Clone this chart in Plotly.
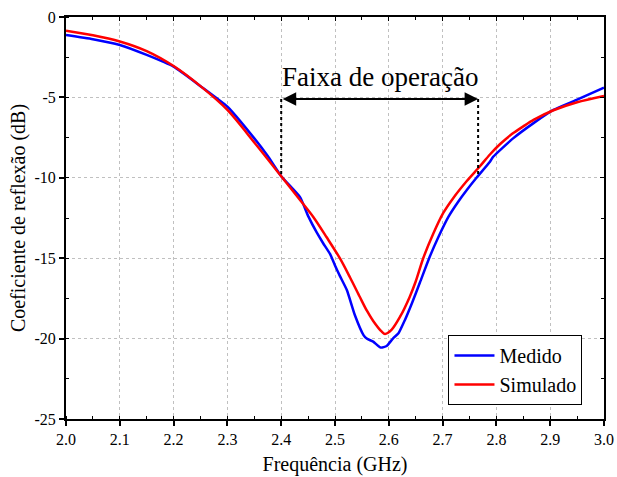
import plotly.graph_objects as go

# Measured (Medido)
freq_med = [2.00, 2.05, 2.10, 2.15, 2.20, 2.25, 2.30, 2.35, 2.375, 2.40, 2.435, 2.4504,
            2.466, 2.478, 2.491, 2.50, 2.509, 2.522, 2.537, 2.553, 2.559, 2.571, 2.585,
            2.596, 2.608, 2.618, 2.630, 2.643, 2.658, 2.675, 2.692, 2.711, 2.729, 2.745,
            2.763, 2.788, 2.794, 2.831, 2.869, 2.906, 2.949, 3.00]
s11_med = [-1.12, -1.38, -1.74, -2.36, -3.09, -4.30, -5.58, -7.55, -8.65, -9.90, -11.20, -12.40,
           -13.40, -14.07, -14.75, -15.45, -16.10, -16.98, -18.55, -19.78, -20.00, -20.19, -20.56,
           -20.46, -19.98, -19.67, -18.84, -17.80, -16.50, -15.00, -13.70, -12.42, -11.49, -10.76,
           -10.00, -9.00, -8.69, -7.55, -6.60, -5.78, -5.16, -4.40]

# Simulated (Simulado)
freq_sim = [2.00, 2.05, 2.10, 2.15, 2.20, 2.25, 2.30, 2.35, 2.40, 2.435, 2.46, 2.4845,
            2.509, 2.528, 2.546, 2.559, 2.571, 2.587, 2.593, 2.605, 2.621, 2.639, 2.65,
            2.664, 2.683, 2.701, 2.72, 2.745, 2.769, 2.788, 2.807, 2.83, 2.85, 2.869, 2.906,
            2.95, 3.00]
s11_sim = [-0.85, -1.13, -1.52, -2.12, -3.05, -4.30, -5.78, -7.80, -9.90, -11.38, -12.45, -13.70,
           -15.00, -16.20, -17.40, -18.25, -18.90, -19.57, -19.71, -19.46, -18.64, -17.39, -16.45,
           -15.00, -13.45, -12.20, -11.25, -10.20, -9.30, -8.55, -7.90, -7.25, -6.80, -6.40, -5.80,
           -5.30, -4.91]

band_start, band_end, band_level = 2.40, 2.766, -5.1
band_start_curve, band_end_curve = -9.9, -9.9
band_label = "Faixa de operação"

x_ticks = [2.0, 2.1, 2.2, 2.3, 2.4, 2.5, 2.6, 2.7, 2.8, 2.9, 3.0]
y_ticks = [0, -5, -10, -15, -20, -25]

FONT = "Liberation Serif"

fig = go.Figure()
fig.add_trace(go.Scatter(x=freq_med, y=s11_med, mode="lines", name="Medido",
                         line=dict(color="#0000ff", width=2.5, shape="spline", smoothing=0.5)))
fig.add_trace(go.Scatter(x=freq_sim, y=s11_sim, mode="lines", name="Simulado",
                         line=dict(color="#ff0000", width=2.5, shape="spline", smoothing=0.8)))
# dummy trace for the top/right mirror axes
fig.add_trace(go.Scatter(x=[x_ticks[0]], y=[y_ticks[0]], xaxis="x2", yaxis="y2",
                         mode="markers", marker=dict(opacity=0), showlegend=False,
                         hoverinfo="skip"))

axis_common = dict(showline=True, linecolor="black", linewidth=2, automargin=False,
                   tickfont=dict(family=FONT, size=16, color="black"),
                   zeroline=False)

fig.update_layout(
    width=617, height=477,
    margin=dict(l=66, r=13, t=17, b=58),
    paper_bgcolor="white", plot_bgcolor="white",
    font=dict(family=FONT, color="black"),
    xaxis=dict(range=[2.0, 3.0], tickvals=x_ticks, ticktext=[f"{v:.1f}" for v in x_ticks],
               ticks="outside", ticklen=5, tickwidth=1.5, tickcolor="black",
               minor=dict(ticks="inside", ticklen=3, tickwidth=1, dtick=0.05, tick0=2.0,
                          tickcolor="black", showgrid=False),
               showgrid=True, gridcolor="#c0c0c0", gridwidth=1, griddash="dot",
               title=dict(text="Frequência (GHz)", font=dict(family=FONT, size=20), standoff=10),
               **axis_common),
    yaxis=dict(range=[-25, 0], tickvals=y_ticks, ticktext=[str(v) for v in y_ticks],
               ticks="outside", ticklen=5, tickwidth=1.5, tickcolor="black",
               minor=dict(ticks="inside", ticklen=3, tickwidth=1, dtick=2.5, tick0=0,
                          tickcolor="black", showgrid=False),
               showgrid=True, gridcolor="#c0c0c0", gridwidth=1, griddash="dot",
               title=dict(text="Coeficiente de reflexão (dB)", font=dict(family=FONT, size=20),
                          standoff=3),
               **axis_common),
    xaxis2=dict(range=[2.0, 3.0], overlaying="x", side="top", anchor="y2", automargin=False,
                tickvals=x_ticks, showticklabels=False, ticks="inside", ticklen=4,
                tickcolor="black", showgrid=False,
                minor=dict(ticks="inside", ticklen=3, dtick=0.05, tick0=2.0, tickcolor="black"),
                showline=True, linecolor="black", linewidth=2, zeroline=False),
    yaxis2=dict(range=[-25, 0], overlaying="y", side="right", anchor="x2", automargin=False,
                tickvals=y_ticks, showticklabels=False, ticks="inside", ticklen=4,
                tickcolor="black", showgrid=False,
                minor=dict(ticks="inside", ticklen=3, dtick=2.5, tick0=0, tickcolor="black"),
                showline=True, linecolor="black", linewidth=2, zeroline=False),
    legend=dict(x=0.96, y=0.035, xanchor="right", yanchor="bottom",
                bgcolor="white", bordercolor="black", borderwidth=1,
                font=dict(family=FONT, size=20, color="black"),
                tracegroupgap=0, itemwidth=40),
    showlegend=True,
)

# dotted verticals at band edges
for xv, yv in [(band_start, band_start_curve), (band_end, band_end_curve)]:
    fig.add_shape(type="line", x0=xv, x1=xv, y0=band_level, y1=yv, xref="x", yref="y",
                  line=dict(color="black", width=2, dash="dot"))

# double-headed arrow
fig.add_annotation(x=band_end, y=band_level, ax=band_start, ay=band_level,
                   xref="x", yref="y", axref="x", ayref="y", text="",
                   showarrow=True, arrowhead=2, startarrowhead=2, arrowside="end+start",
                   arrowsize=1.5, startarrowsize=1.5, arrowwidth=1.8, arrowcolor="black",
                   standoff=0, startstandoff=0)

fig.add_annotation(x=(band_start + band_end) / 2, y=band_level + 1.35, xref="x", yref="y",
                   text=band_label, showarrow=False,
                   font=dict(family=FONT, size=27, color="black"))

fig.write_html("out.html")
